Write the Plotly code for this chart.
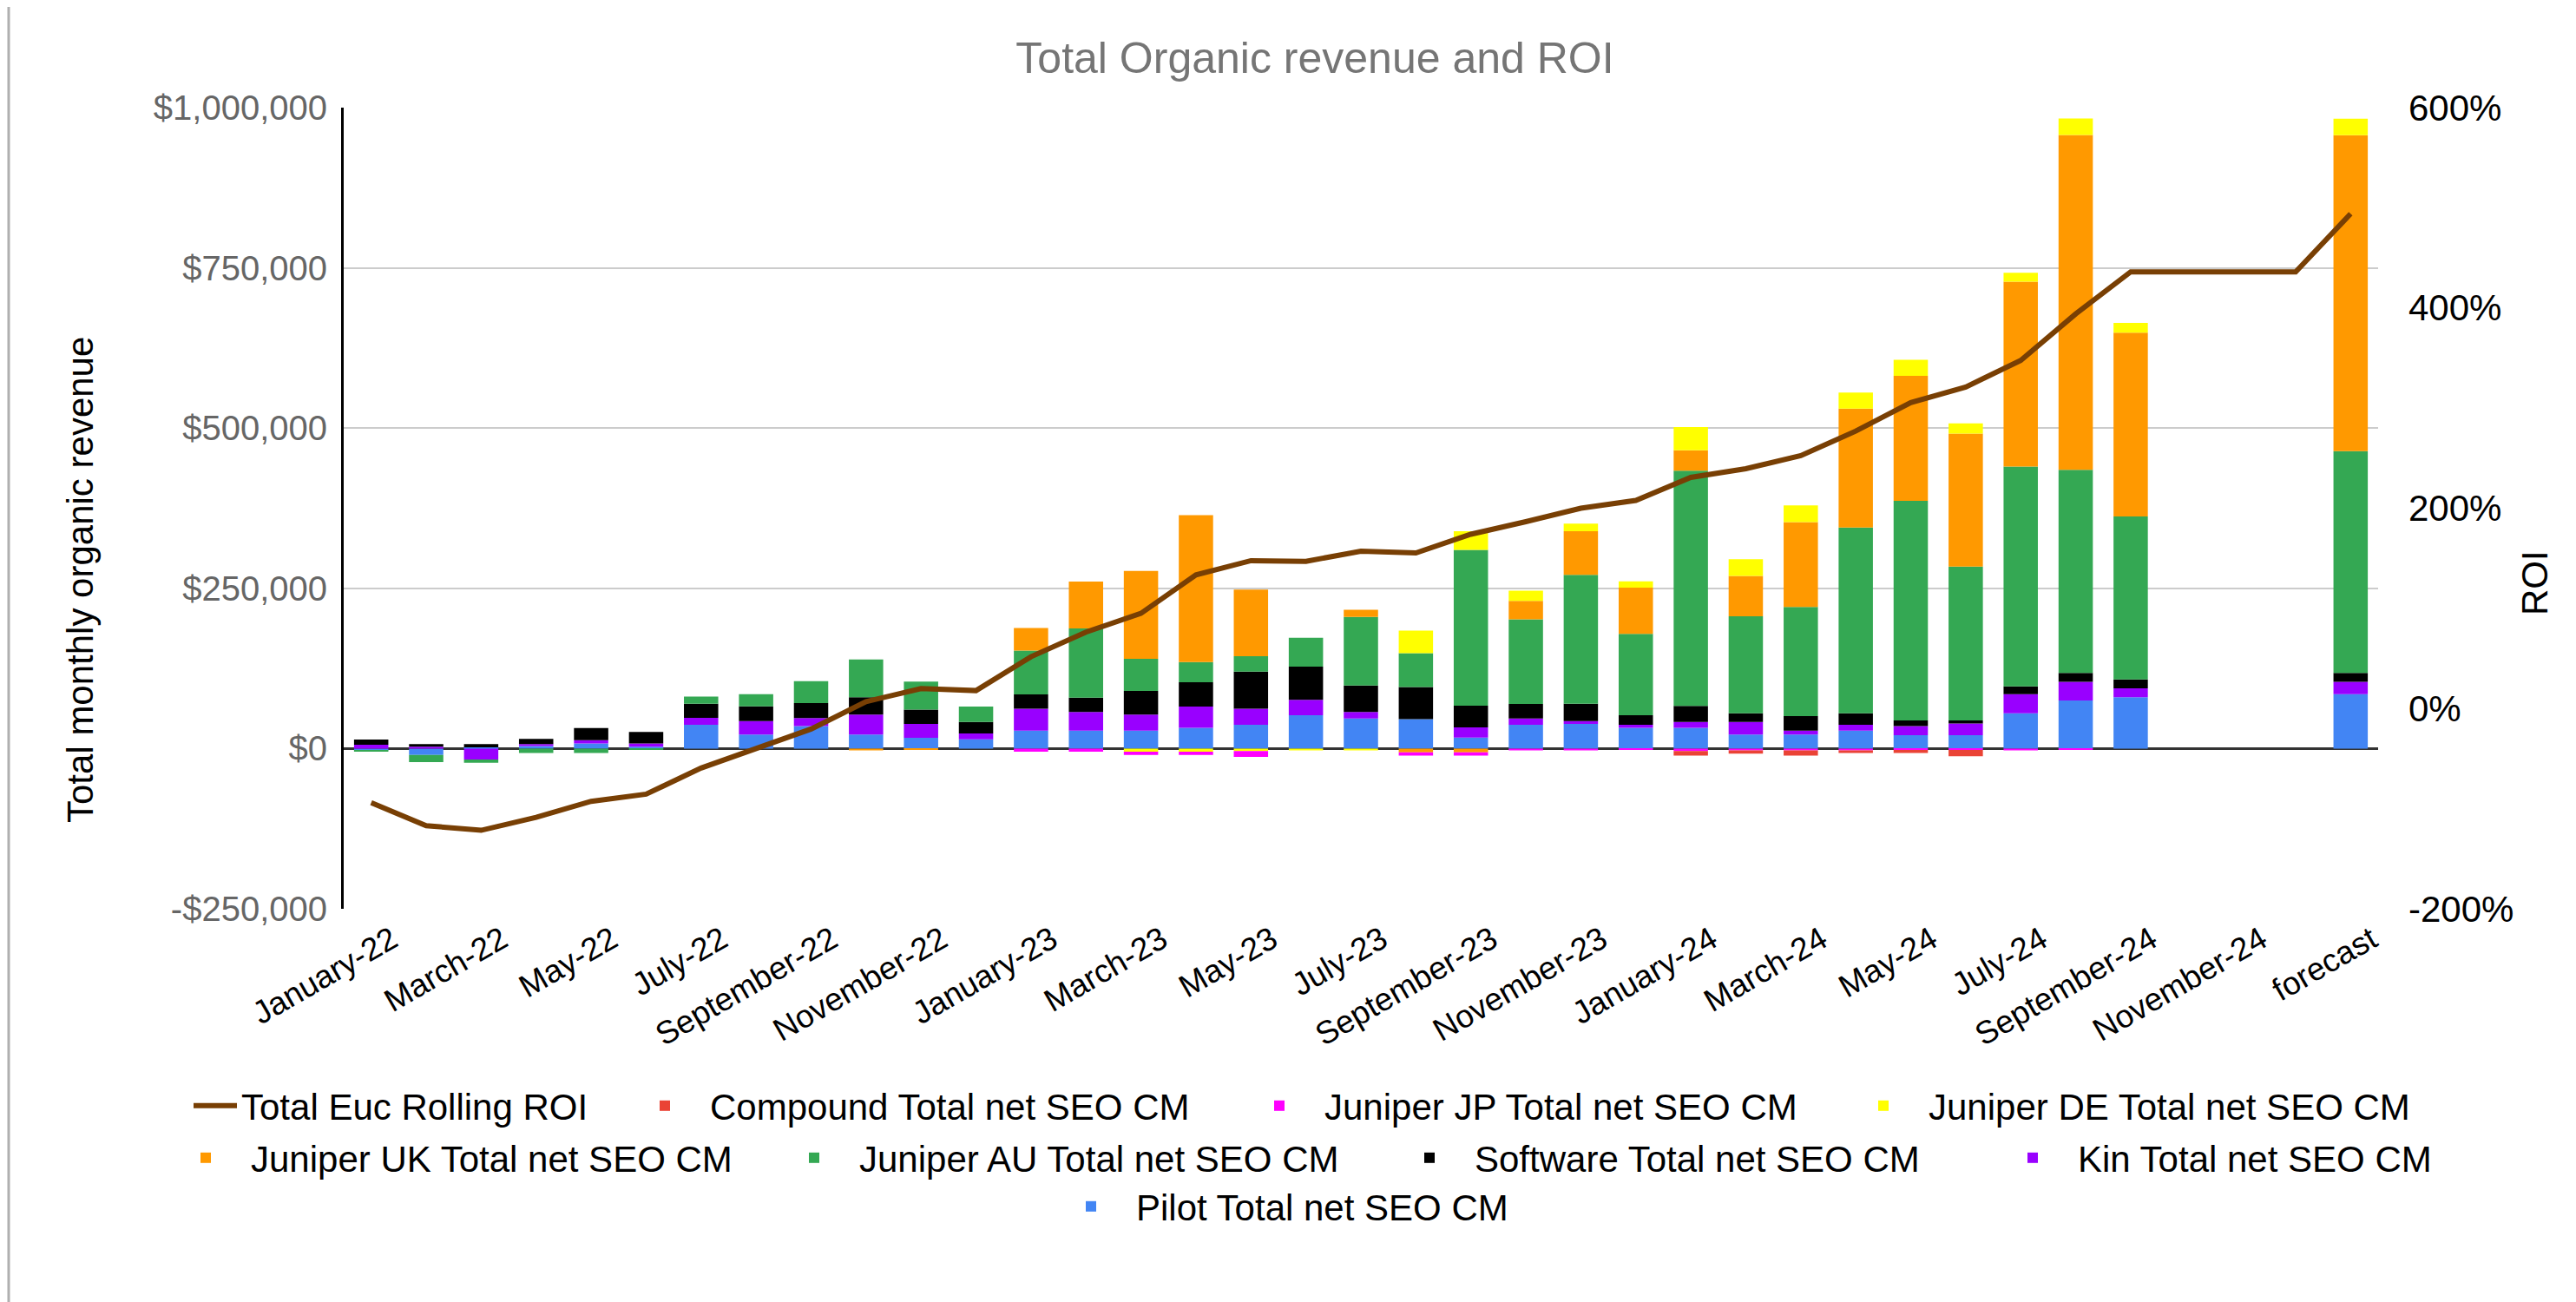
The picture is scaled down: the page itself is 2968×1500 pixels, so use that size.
import plotly.graph_objects as go

# categories: 36 months + forecast
months = ["January-22", "February-22", "March-22", "April-22", "May-22", "June-22",
          "July-22", "August-22", "September-22", "October-22", "November-22", "December-22",
          "January-23", "February-23", "March-23", "April-23", "May-23", "June-23",
          "July-23", "August-23", "September-23", "October-23", "November-23", "December-23",
          "January-24", "February-24", "March-24", "April-24", "May-24", "June-24",
          "July-24", "August-24", "September-24", "October-24", "November-24", "December-24",
          "forecast"]

# net SEO CM per brand ($)
pilot = [-3000, -10000, 2000, 4000, 8000, 3000, 37000, 22000, 35000, 22000, 16700, 14400,
         28000, 28000, 28000, 32500, 37000, 52000, 47000, 46000, 17000, 37000, 38500, 32500,
         32500, 22000, 22000, 28000, 21000, 21000, 55000, 75000, 80000, None, None, None, 85000]
kin = [6000, 3000, -17000, 3000, 5000, 5000, 11000, 21000, 12600, 31000, 21600, 9000,
       34000, 29000, 25000, 33000, 25000, 24000, 10000, 0, 16000, 10000, 4500, 4500,
       9000, 19500, 6000, 9000, 14000, 18000, 30000, 29000, 14000, None, None, None, 19000]
software = [8000, 4000, 5000, 8000, 19000, 18000, 22000, 23000, 23500, 27000, 22500, 18000,
            22500, 22500, 37000, 38000, 58000, 52000, 41500, 50000, 34000, 22500, 27000, 15000,
            25000, 13500, 22500, 18000, 9000, 5000, 12000, 14000, 14000, None, None, None, 14000]
juniper_au = [-2000, -11000, -5000, -7000, -7000, -2000, 11000, 19000, 34000, 59000, 43700, 24000,
              68500, 108000, 50000, 31500, 24000, 45000, 107000, 53000, 243000, 132000, 201000, 127000,
              367000, 151500, 170500, 290000, 342500, 240000, 343000, 317000, 254000, None, None, None, 346000]
juniper_uk = [0, 0, 0, 0, 0, 0, 0, 0, 0, -3000, -2000, 0,
              35000, 73000, 137000, 229000, 104000, 0, 11000, -6000, -6000, 29000, 68000, 72000,
              32000, 63000, 132500, 185500, 195000, 207500, 288500, 522500, 287000, None, None, None, 493000]
juniper_de = [0, 0, 0, 0, 0, 0, 0, 0, 0, 0, 0, 0,
              0, 0, -5000, -5000, -4000, -3000, -3000, 35000, 29000, 16000, 12000, 10000,
              36000, 26000, 26000, 25000, 25000, 16000, 14000, 25600, 15000, None, None, None, 25600]
juniper_jp = [0, 0, 0, 0, 0, 0, 0, 0, 0, 0, 0, 0,
              -5000, -5000, -5000, -5000, -9000, 0, 0, -5000, -5000, -3000, -3000, -2000,
              -4000, -3000, -3000, -3000, -2000, -2000, -3000, -2000, 0, None, None, None, 0]
compound = [0, 0, 0, 0, 0, 0, 0, 0, 0, 0, 0, 0,
            0, 0, 0, 0, 0, 0, 0, 0, 0, 0, 0, 0,
            -7000, -5000, -8000, -4000, -5000, -10000, 0, 0, 0, None, None, None, 0]

# rolling ROI (%)
roi = [-94, -117, -121.6, -108.6, -92.7, -85.5, -59.5, -39.9, -20.5, 6.9, 19.9, 17.9,
       51.7, 76.3, 95, 133.5, 147.6, 147, 157, 155.3, 174, 186.6, 200, 207.8,
       230.8, 239.5, 252.5, 277, 305.5, 321, 347.6, 394, 436, 436, 436, 436, 494]

y_ticks = [-250000, 0, 250000, 500000, 750000, 1000000]
y_ticktext = ["-$250,000", "$0", "$250,000", "$500,000", "$750,000", "$1,000,000"]
roi_ticks = [-200, 0, 200, 400, 600]
roi_ticktext = ["-200%", "0%", "200%", "400%", "600%"]

FONT = "Arial, Liberation Sans, sans-serif"

# plot area in pixels
W, H = 2968, 1500
L, R, T, B = 388, 236, 116, 461
PW, PH = W - L - R, H - T - B


def px_x(p):
    return (p - L) / PW


def px_y(p):
    return (H - B - p) / PH


# stacked from the zero line outwards: Pilot first ... Compound last
bars = [
    ("Pilot Total net SEO CM", pilot, "#4285f4", "legend9"),
    ("Kin Total net SEO CM", kin, "#9900ff", "legend8"),
    ("Software Total net SEO CM", software, "#000000", "legend7"),
    ("Juniper AU Total net SEO CM", juniper_au, "#34a853", "legend6"),
    ("Juniper UK Total net SEO CM", juniper_uk, "#ff9900", "legend5"),
    ("Juniper DE Total net SEO CM", juniper_de, "#ffff00", "legend4"),
    ("Juniper JP Total net SEO CM", juniper_jp, "#ff00ff", "legend3"),
    ("Compound Total net SEO CM", compound, "#ea4335", "legend2"),
]

fig = go.Figure()

for name, vals, color, leg in bars:
    fig.add_trace(go.Bar(x=months, y=vals, name=name, marker_color=color,
                         marker_line_width=0, legend=leg))

fig.add_trace(go.Scatter(x=months, y=roi, name="Total Euc Rolling ROI", mode="lines",
                         line=dict(color="#783f04", width=6), yaxis="y2",
                         legend="legend", showlegend=True))

# legend laid out like the sheet: three centred rows, one box per entry
# (text start x, row y) in pixels, plus symbol width
legend_pos = {
    "legend": (285, 1266, 50), "legend2": (825, 1266, 94), "legend3": (1533, 1266, 94),
    "legend4": (2229, 1266, 94), "legend5": (296, 1326, 94), "legend6": (997, 1326, 94),
    "legend7": (1706, 1326, 94), "legend8": (2401, 1326, 94), "legend9": (1316, 1382, 94),
}
legends = {}
for key, (tx, ty, itemw) in legend_pos.items():
    legends[key] = dict(orientation="h", xanchor="left", x=px_x(tx - itemw - 25),
                        yanchor="middle", y=px_y(ty), itemwidth=itemw,
                        font=dict(size=42, color="#000000", family=FONT),
                        bgcolor="rgba(0,0,0,0)", borderwidth=0)

fig.update_layout(
    width=W, height=H, showlegend=True,
    barmode="relative", bargap=0.376,
    plot_bgcolor="white", paper_bgcolor="white",
    font=dict(family=FONT, color="#000000"),
    margin=dict(l=L, r=R, t=T, b=B, autoexpand=False),
    title=dict(text="Total Organic revenue and ROI", x=1507 / W, xref="container",
               xanchor="center", y=1 - 58 / H, yref="container", yanchor="middle",
               font=dict(size=50, color="#757575", family=FONT)),
    xaxis=dict(type="category", tickvals=months[::2], ticktext=months[::2],
               tickangle=-30, tickfont=dict(size=37), showgrid=False, showline=False,
               ticks="", ticklabelstandoff=6, ticklabelshift=24, automargin=False),
    yaxis=dict(range=[-250000, 1000000], tickvals=y_ticks, ticktext=y_ticktext,
               tickfont=dict(size=40, color="#666666"), showgrid=True, gridcolor="#cccccc",
               gridwidth=2, zeroline=True, zerolinecolor="#333333", zerolinewidth=3,
               showline=True, linecolor="#000000", linewidth=3, ticks="",
               ticklabelstandoff=8, automargin=False),
    yaxis2=dict(range=[-200, 600], tickvals=roi_ticks, ticktext=roi_ticktext,
                overlaying="y", side="right", showgrid=False, zeroline=False, showline=False,
                tickfont=dict(size=42), ticks="", ticklabelstandoff=34, automargin=False),
    annotations=[
        dict(text="Total monthly organic revenue", textangle=-90, xref="paper", yref="paper",
             x=px_x(84), y=px_y(660), xanchor="center", yanchor="middle", showarrow=False,
             font=dict(size=42, color="#000000")),
        dict(text="ROI", textangle=-90, xref="paper", yref="paper",
             x=px_x(2912), y=px_y(664), xanchor="center", yanchor="middle", showarrow=False,
             font=dict(size=42, color="#000000")),
    ],
    shapes=[dict(type="line", xref="paper", yref="paper", x0=px_x(2), x1=px_x(2),
                 y0=px_y(H), y1=px_y(0), line=dict(color="#b0b0b0", width=3))],
    **legends,
)

fig.write_html("out.html")
